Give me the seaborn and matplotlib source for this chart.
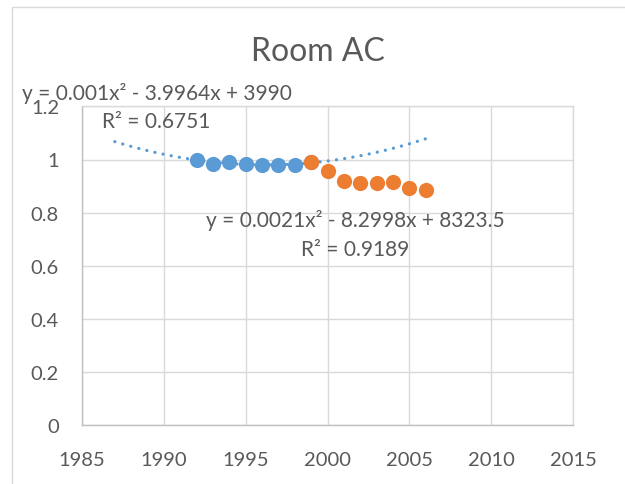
import numpy as np
import pandas as pd
import seaborn as sns
import matplotlib
matplotlib.use("Agg")
import matplotlib.pyplot as plt
from matplotlib.patches import Rectangle

# ---- data ----
blue_years = [1992, 1993, 1994, 1995, 1996, 1997, 1998, 1999]
blue_vals = [1.000, 0.983, 0.991, 0.983, 0.979, 0.979, 0.980, 0.990]
orange_years = [1999, 2000, 2001, 2002, 2003, 2004, 2005, 2006]
orange_vals = [0.989, 0.955, 0.920, 0.911, 0.911, 0.916, 0.892, 0.886]
x_ticks = [1985, 1990, 1995, 2000, 2005, 2010, 2015]
y_ticks = [0, 0.2, 0.4, 0.6, 0.8, 1.0, 1.2]
y_tick_labels = ["0", "0.2", "0.4", "0.6", "0.8", "1", "1.2"]
title = "Room AC"
eq1 = "y = 0.001x² - 3.9964x + 3990\nR² = 0.6751"
eq2 = "y = 0.0021x² - 8.2998x + 8323.5\nR² = 0.9189"
trend_range = (1987, 2006)

BLUE = "#5B9BD5"
ORANGE = "#ED7D31"
TXT = "#595959"
GRID = "#D9D9D9"
AXIS = "#BFBFBF"

sns.set_theme(style="white")
plt.rcParams["font.family"] = ["Lato", "DejaVu Sans"]

W, H = 625, 485
fig = plt.figure(figsize=(W / 100, H / 100), dpi=100)
fig.patch.set_facecolor("white")
# chart border (Excel chart area)
fig.add_artist(Rectangle((12 / W, -0.5), 2.0, (H - 8) / H + 0.5,
                         transform=fig.transFigure, fill=False,
                         edgecolor=GRID, linewidth=1.0))

ax = fig.add_axes([82 / W, 59 / H, 491 / W, 318.6 / H])

# polynomial trendline (order 2) fitted to the blue series
coef = np.polyfit(blue_years, blue_vals, 2)
tx = np.linspace(trend_range[0], trend_range[1], 200)
trend = pd.DataFrame({"x": tx, "y": np.polyval(coef, tx)})
sns.lineplot(data=trend, x="x", y="y", ax=ax, color=BLUE, linewidth=2.3,
             dashes=False, zorder=2)
ax.lines[-1].set_linestyle((0, (0.05, 2.55)))
ax.lines[-1].set_dash_capstyle("round")

df_b = pd.DataFrame({"x": blue_years, "y": blue_vals})
df_o = pd.DataFrame({"x": orange_years, "y": orange_vals})
sns.scatterplot(data=df_b, x="x", y="y", ax=ax, color=BLUE, s=120,
                linewidth=0, zorder=3)
sns.scatterplot(data=df_o, x="x", y="y", ax=ax, color=ORANGE, s=120,
                linewidth=0, zorder=4)

ax.set_xlim(1985, 2015)
ax.set_ylim(0, 1.2)
ax.set_xticks(x_ticks)
ax.set_xticklabels([str(v) for v in x_ticks])
ax.set_yticks(y_ticks)
ax.set_yticklabels(y_tick_labels)
ax.set_xlabel("")
ax.set_ylabel("")
ax.grid(True, color=GRID, linewidth=1.0)
ax.set_axisbelow(True)
for side in ["top", "right"]:
    ax.spines[side].set_color(GRID)
    ax.spines[side].set_linewidth(1.0)
for side in ["left", "bottom"]:
    ax.spines[side].set_color(AXIS)
    ax.spines[side].set_linewidth(1.0)
ax.tick_params(axis="both", length=0, labelsize=14.5, labelcolor=TXT)
ax.tick_params(axis="x", pad=18.5)
ax.tick_params(axis="y", pad=16.5)

fig.text(318 / W, 1 - 51.7 / H, title, ha="center", va="center",
         fontsize=23, color=TXT)

ax.text(1989.55, 1.200, eq1, ha="center", va="center", multialignment="center",
        fontsize=15, color=TXT, linespacing=1.55, clip_on=False, zorder=5)
ax.text(2001.7, 0.718, eq2, ha="center", va="center", multialignment="center",
        fontsize=15, color=TXT, linespacing=1.55, clip_on=False, zorder=5)

fig.savefig("out.png", dpi=100, facecolor="white")
